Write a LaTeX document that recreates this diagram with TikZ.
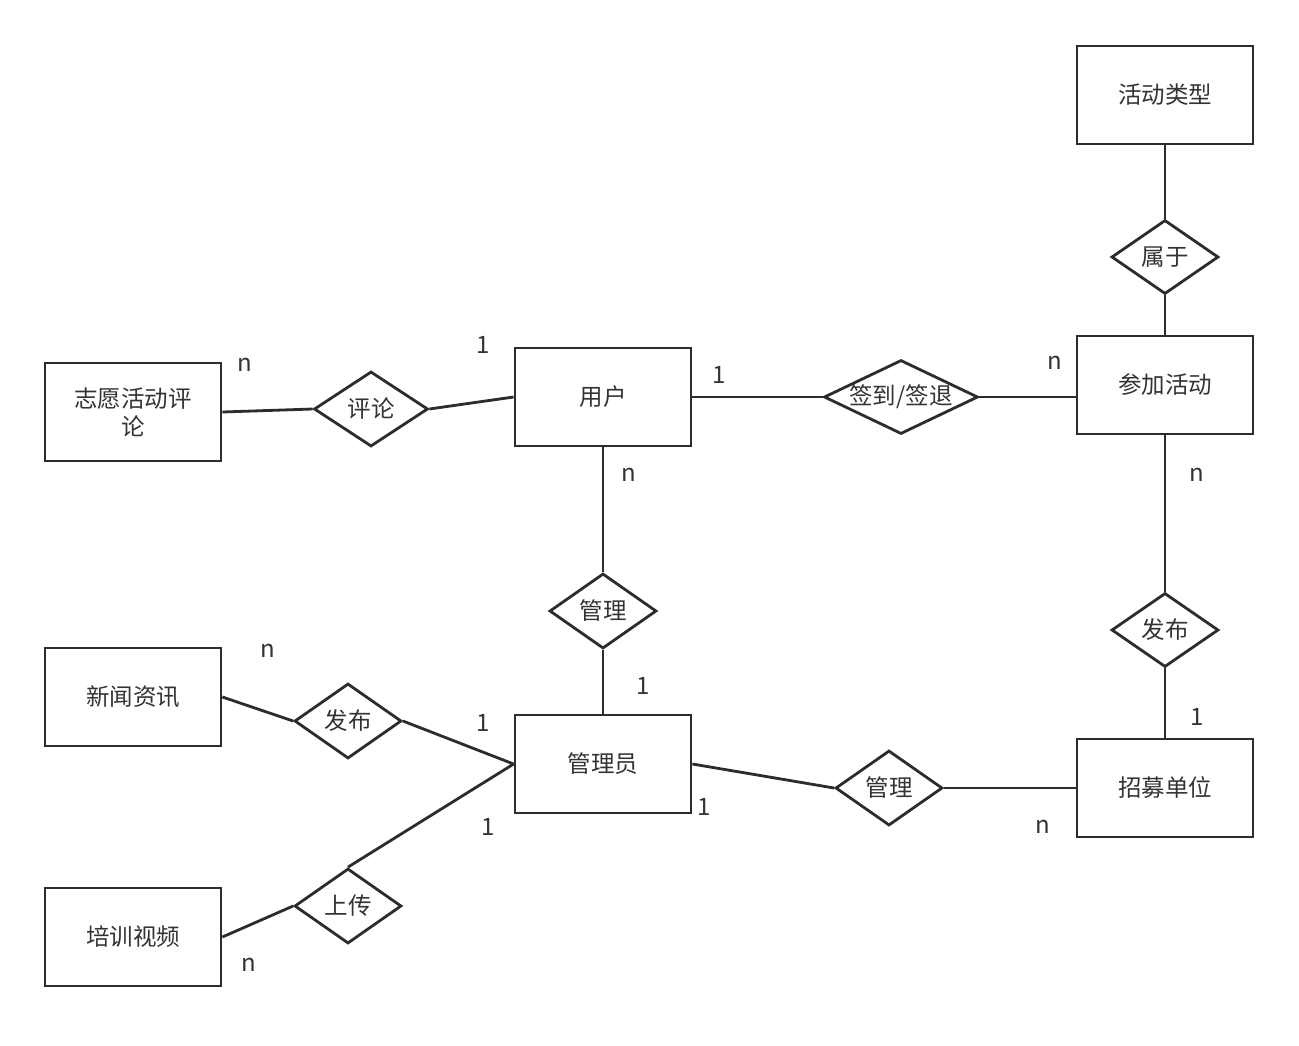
\documentclass[tikz,border=0pt]{standalone}
\usepackage{fontspec}
\setmainfont{Noto Sans CJK SC}
\usetikzlibrary{shapes.geometric}
\definecolor{ln}{RGB}{40,45,50}
\definecolor{tx}{RGB}{51,51,51}
\begin{document}
\begin{tikzpicture}[x=1pt,y=-1pt,
  ent/.style={draw=ln, line width=2.8pt, minimum width=176pt, minimum height=98pt,
    inner sep=0pt, font=\fontsize{23.5}{28}\selectfont, text=tx, align=center},
  lab/.style={font=\fontsize{23.5}{28}\selectfont, text=tx, inner sep=0pt},
  rel/.style={draw=ln, line width=2.8pt, diamond, inner sep=0pt, minimum width=107pt,
    minimum height=75pt, label={[lab]center:#1}},
  card/.style={font=\fontsize{24}{28}\selectfont, text=tx, inner sep=0pt},
  conn/.style={draw=ln, line width=2.8pt}]
\useasboundingbox (0,0) rectangle (1299,1045);
\fill[white] (0,0) rectangle (1299,1045);
% entities
\node[ent] (e1) at (133,412) {志愿活动评\\论};
\node[ent] (e2) at (603,397) {用户};
\node[ent] (e3) at (1165,385) {参加活动};
\node[ent] (e4) at (1165,95) {活动类型};
\node[ent] (e5) at (133,697) {新闻资讯};
\node[ent] (e6) at (603,764) {管理员};
\node[ent] (e7) at (1165,788) {招募单位};
\node[ent] (e8) at (133,937) {培训视频};
% relationships
\node[rel=评论, minimum width=114pt] (r1) at (371,409) {};
\node[rel=签到/签退, minimum width=154pt, minimum height=74pt] (r2) at (901,397) {};
\node[rel=属于, minimum height=74pt] (r3) at (1165,257) {};
\node[rel=发布, minimum height=74pt] (r4) at (1165,630) {};
\node[rel=管理] (r5) at (603,611) {};
\node[rel=发布] (r6) at (348,721) {};
\node[rel=管理] (r7) at (889,788) {};
\node[rel=上传] (r8) at (348,906) {};
% connectors
\draw[conn] (e1.east) -- (r1.west);
\draw[conn] (r1.east) -- (e2.west);
\draw[conn] (e2.east) -- (r2.west);
\draw[conn] (r2.east) -- (r2.east -| e3.west);
\draw[conn] (e4.south) -- (r3.north);
\draw[conn] (r3.south) -- (e3.north);
\draw[conn] (e3.south) -- (r4.north);
\draw[conn] (r4.south) -- (e7.north);
\draw[conn] (e2.south) -- (r5.north);
\draw[conn] (r5.south) -- (e6.north);
\draw[conn] (e5.east) -- (r6.west);
\draw[conn] (r6.east) -- (e6.west);
\draw[conn] (e8.east) -- (r8.west);
\draw[conn] (r8.north) -- (e6.west);
\draw[conn] (e6.east) -- (r7.west);
\draw[conn] (r7.east) -- (e7.west);
% cardinalities
\node[card] (c1) at (245,365) {n};
\node[card] (c2) at (483,345) {1};
\node[card] (c3) at (719,375) {1};
\node[card] (c4) at (1055,363) {n};
\node[card] (c5) at (629,475) {n};
\node[card] (c6) at (1197,475) {n};
\node[card] (c7) at (643,686) {1};
\node[card] (c8) at (268,651) {n};
\node[card] (c9) at (483,723) {1};
\node[card] (c10) at (488,827) {1};
\node[card] (c11) at (704,807) {1};
\node[card] (c12) at (1197,717) {1};
\node[card] (c13) at (1043,827) {n};
\node[card] (c14) at (249,965) {n};
\end{tikzpicture}
\end{document}
